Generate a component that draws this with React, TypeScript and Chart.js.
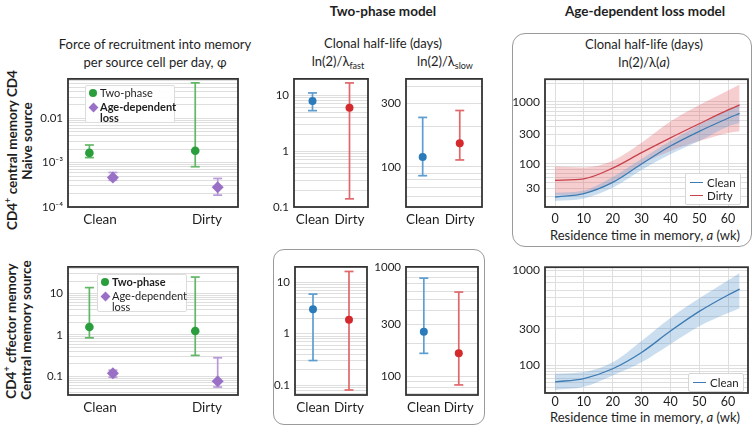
import React, { useEffect, useRef } from 'react';
import { Chart, registerables } from 'chart.js';
Chart.register(...registerables);

// ---------------- DATA ----------------
const categories = ['Clean', 'Dirty'];

// Force of recruitment, naive source (top-left)
const phiNaiveTwoPhase = [1.66e-3, 1.85e-3];
const phiNaiveTwoPhaseLo = [1.3e-3, 8.1e-4];
const phiNaiveTwoPhaseHi = [2.5e-3, 0.063];
const phiNaiveAge = [4.6e-4, 2.8e-4];
const phiNaiveAgeLo = [4.0e-4, 1.85e-4];
const phiNaiveAgeHi = [6.0e-4, 4.4e-4];

// Force of recruitment, central memory source (bottom-left)
const phiCmTwoPhase = [1.55, 1.24];
const phiCmTwoPhaseLo = [0.85, 0.32];
const phiCmTwoPhaseHi = [13.9, 25];
const phiCmAge = [0.118, 0.076];
const phiCmAgeLo = [0.095, 0.055];
const phiCmAgeHi = [0.14, 0.28];

// Two-phase model half-lives (days)
const fastNaive = [7.9, 6.0];
const fastNaiveLo = [5.3, 0.14];
const fastNaiveHi = [11, 16.6];
const slowNaive = [119, 151];
const slowNaiveLo = [86, 113];
const slowNaiveHi = [236, 266];
const fastCm = [3.0, 1.86];
const fastCmLo = [0.3, 0.08];
const fastCmHi = [5.9, 16.3];
const slowCm = [257, 163];
const slowCmLo = [163, 84];
const slowCmHi = [790, 590];

// Age-dependent loss model: half-life vs residence time
const residenceWeeks = [0, 10, 20, 30, 40, 50, 60, 64];
const naiveCleanHalfLife = [29, 33, 50, 99, 193, 334, 543, 650];
const naiveCleanLo = [25, 27.5, 41, 79, 142, 232, 400, 453];
const naiveCleanHi = [34, 37, 61, 119, 232, 426, 740, 890];
const naiveDirtyHalfLife = [54, 57, 85, 151, 262, 443, 740, 890];
const naiveDirtyLo = [31, 33, 50, 99, 161, 232, 314, 334];
const naiveDirtyHi = [90, 87, 112, 218, 481, 890, 1530, 1900];
const cmCleanHalfLife = [51.5, 59.6, 88.6, 155, 284, 453, 637, 712];
const cmCleanLo = [34.6, 40.7, 68, 112, 199, 321, 437, 486];
const cmCleanHi = [73, 78, 112, 218, 390, 597, 839, 953];

// Tick labels
const phiNaiveTicks: [number, string][] = [[1e-4, '10⁻⁴'], [1e-3, '10⁻³'], [0.01, '0.01']];
const phiCmTicks: [number, string][] = [[0.1, '0.1'], [1, '1'], [10, '10']];
const fastTicks: [number, string][] = [[0.1, '0.1'], [1, '1'], [10, '10']];
const slowNaiveTicks: [number, string][] = [[100, '100'], [300, '300']];
const slowCmTicks: [number, string][] = [[100, '100'], [300, '300'], [1000, '1000']];
const ageNaiveTicks: [number, string][] = [[40, '30'], [100, '100'], [300, '300'], [1000, '1000']];
const ageCmTicks: [number, string][] = [[100, '100'], [300, '300'], [1000, '1000']];
const weekTicks = [0, 10, 20, 30, 40, 50, 60];

// ---------------- STYLE ----------------
const FONT = 'Lato, "Open Sans", "DejaVu Sans", sans-serif';
const INK = '#1e1e1e';
const GRID = '#dedede';
const GREEN = '#2a9d3c';
const GREEN_BAR = '#62b866';
const PURPLE = '#9a70c6';
const PURPLE_BAR = '#b89ad9';
const BLUE = '#2b7bba';
const BLUE_BAR = '#5d9dd0';
const RED = '#d42a2e';
const RED_BAR = '#e0676a';

function logGrid(min: number, max: number) {
  const out: number[] = [];
  for (let e = -5; e <= 4; e++)
    for (let m = 1; m <= 9; m++) {
      const v = +(m * Math.pow(10, e)).toPrecision(6);
      if (v >= min * 0.999 && v <= max * 1.001) out.push(v);
    }
  return out;
}

const framePlugin = {
  id: 'frame',
  afterDatasetsDraw(chart: any) {
    const { ctx, chartArea: a } = chart;
    ctx.save();
    ctx.strokeStyle = '#333';
    ctx.lineWidth = 1.8;
    ctx.strokeRect(a.left, a.top, a.right - a.left, a.bottom - a.top);
    ctx.restore();
  },
};

function findLabel(labels: [number, string][], v: number) {
  const f = labels.find(([lv]) => Math.abs(lv - v) <= Math.abs(lv) * 1e-6);
  return f ? f[1] : '';
}

function logY(min: number, max: number, labels: [number, string][], size = 11.5) {
  const gv = logGrid(min, max);
  return {
    type: 'logarithmic',
    min,
    max,
    bounds: 'data',
    afterBuildTicks: (s: any) => {
      s.ticks = gv.map((v) => ({ value: v }));
    },
    ticks: {
      autoSkip: false,
      padding: 5,
      color: INK,
      font: { family: FONT, size },
      callback: (v: number) => findLabel(labels, v),
    },
    grid: { color: GRID, lineWidth: 1, drawTicks: false },
    border: { display: false },
  };
}

function catX(min: number, max: number, size = 13.5) {
  return {
    type: 'linear',
    min,
    max,
    bounds: 'data',
    afterBuildTicks: (s: any) => {
      s.ticks = categories.map((_, i) => ({ value: i }));
    },
    ticks: {
      autoSkip: false,
      padding: 5,
      maxRotation: 0,
      color: INK,
      font: { family: FONT, size },
      callback: (v: number) => categories[v] ?? '',
    },
    grid: { display: false, drawTicks: false },
    border: { display: false },
  };
}

function weekX(pad: number) {
  return {
    type: 'linear',
    min: -3.47,
    max: 66.9,
    bounds: 'data',
    afterBuildTicks: (s: any) => {
      s.ticks = weekTicks.map((v) => ({ value: v }));
    },
    ticks: { autoSkip: false, padding: pad, maxRotation: 0, color: INK, font: { family: FONT, size: 12.5 } },
    grid: { color: GRID, lineWidth: 1, drawTicks: false },
    border: { display: false },
  };
}

function errorBars(xs: number[], mid: number[], lo: number[], hi: number[], pc: string, bc: string, style: string, r: number) {
  const bar: any[] = [];
  xs.forEach((x, i) => {
    if (i > 0) bar.push({ x: (xs[i - 1] + x) / 2, y: null });
    bar.push({ x, y: lo[i] }, { x, y: hi[i] });
  });
  return [
    {
      type: 'scatter',
      data: xs.map((x, i) => ({ x, y: mid[i] })),
      pointStyle: style,
      pointRadius: r,
      pointBackgroundColor: pc,
      pointBorderColor: pc,
      pointBorderWidth: 0,
      order: 0,
    },
    {
      type: 'scatter',
      showLine: true,
      spanGaps: false,
      data: bar,
      borderColor: bc,
      borderWidth: 1.7,
      pointRadius: 0,
      order: 1,
    },
    {
      type: 'scatter',
      data: xs.flatMap((x, i) => [{ x, y: lo[i] }, { x, y: hi[i] }]),
      pointStyle: 'line',
      pointRadius: 4.5,
      pointBorderColor: bc,
      pointBorderWidth: 1.7,
      order: 1,
    },
  ];
}

type Box = { l: number; t: number; r: number; b: number };

function Panel({ box, yW, xH, padT = 10, padR = 8, make }: { box: Box; yW: number; xH: number; padT?: number; padR?: number; make: () => any }) {
  const ref = useRef<HTMLCanvasElement>(null);
  const w = box.r - box.l + yW + padR;
  const h = box.b - box.t + padT + xH;
  useEffect(() => {
    const cfg = make();
    const o = cfg.options || {};
    o.responsive = false;
    o.maintainAspectRatio = false;
    o.animation = false;
    o.devicePixelRatio = 1;
    o.layout = { padding: { top: padT, right: padR, left: 0, bottom: 0 } };
    o.plugins = { legend: { display: false }, tooltip: { enabled: false } };
    o.scales.x.afterFit = (s: any) => {
      s.height = xH;
    };
    o.scales.y.afterFit = (s: any) => {
      s.width = yW;
    };
    cfg.options = o;
    cfg.plugins = [framePlugin];
    const chart = new Chart(ref.current as HTMLCanvasElement, cfg);
    return () => chart.destroy();
  }, []);
  return (
    <canvas
      ref={ref}
      width={w}
      height={h}
      style={{ position: 'absolute', left: box.l - yW, top: box.t - padT, width: w, height: h }}
    />
  );
}

function phiChart(two: number[], twoLo: number[], twoHi: number[], age: number[], ageLo: number[], ageHi: number[], yMin: number, yMax: number, ticks: [number, string][]) {
  return () => ({
    type: 'scatter',
    data: {
      datasets: [
        ...errorBars([-0.1, 0.89], two, twoLo, twoHi, GREEN, GREEN_BAR, 'circle', 4.3),
        ...errorBars([0.12, 1.1], age, ageLo, ageHi, PURPLE, PURPLE_BAR, 'rectRot', 6),
      ],
    },
    options: { scales: { x: catX(-0.3, 1.29), y: logY(yMin, yMax, ticks) } },
  });
}

function halfLifeChart(mid: number[], lo: number[], hi: number[], xMin: number, xMax: number, yMin: number, yMax: number, ticks: [number, string][]) {
  return () => ({
    type: 'scatter',
    data: {
      datasets: [
        ...errorBars([0], [mid[0]], [lo[0]], [hi[0]], BLUE, BLUE_BAR, 'circle', 4),
        ...errorBars([1], [mid[1]], [lo[1]], [hi[1]], RED, RED_BAR, 'circle', 4),
      ],
    },
    options: { scales: { x: catX(xMin, xMax), y: logY(yMin, yMax, ticks) } },
  });
}

function lineDs(xs: number[], ys: number[], color: string, width: number, fill: any, bg: string, order: number) {
  return {
    type: 'line',
    data: xs.map((x, i) => ({ x, y: ys[i] })),
    borderColor: color,
    borderWidth: width,
    backgroundColor: bg,
    fill,
    pointRadius: 0,
    cubicInterpolationMode: 'monotone',
    order,
  };
}

const BLUE_LINE = '#3d7bb3';
const RED_LINE = '#c8424c';
const BLUE_FILL = 'rgba(92,152,207,0.32)';
const RED_FILL = 'rgba(226,92,100,0.30)';

function ageNaiveChart() {
  return {
    type: 'line',
    data: {
      datasets: [
        lineDs(residenceWeeks, naiveCleanHalfLife, BLUE_LINE, 1.3, false, BLUE_LINE, 0),
        lineDs(residenceWeeks, naiveDirtyHalfLife, RED_LINE, 1.3, false, RED_LINE, 0),
        lineDs(residenceWeeks, naiveCleanHi, 'rgba(0,0,0,0)', 0, '+1', BLUE_FILL, 1),
        lineDs(residenceWeeks, naiveCleanLo, 'rgba(0,0,0,0)', 0, false, BLUE_FILL, 1),
        lineDs(residenceWeeks, naiveDirtyHi, 'rgba(0,0,0,0)', 0, '+1', RED_FILL, 2),
        lineDs(residenceWeeks, naiveDirtyLo, 'rgba(0,0,0,0)', 0, false, RED_FILL, 2),
      ],
    },
    options: { scales: { x: weekX(4), y: logY(20, 2320, ageNaiveTicks, 12) } },
  };
}

const cbrt = (v: number) => Math.cbrt(v);
const cmGridVals = logGrid(30, 1000);

function ageCmChart() {
  return {
    type: 'line',
    data: {
      datasets: [
        lineDs(residenceWeeks, cmCleanHalfLife.map(cbrt), BLUE_LINE, 1.3, false, BLUE_LINE, 0),
        lineDs(residenceWeeks, cmCleanHi.map(cbrt), 'rgba(0,0,0,0)', 0, '+1', BLUE_FILL, 1),
        lineDs(residenceWeeks, cmCleanLo.map(cbrt), 'rgba(0,0,0,0)', 0, false, BLUE_FILL, 1),
      ],
    },
    options: {
      scales: {
        x: weekX(1),
        y: {
          type: 'linear',
          min: cbrt(29.6),
          max: cbrt(1050),
          bounds: 'data',
          afterBuildTicks: (s: any) => {
            s.ticks = cmGridVals.map((v) => ({ value: cbrt(v) }));
          },
          ticks: {
            autoSkip: false,
            padding: 5,
            color: INK,
            font: { family: FONT, size: 12 },
            callback: (v: number) => findLabel(ageCmTicks, Math.round(v * v * v)),
          },
          grid: { color: GRID, lineWidth: 1, drawTicks: false },
          border: { display: false },
        },
      },
    },
  };
}

// ---------------- HTML helpers ----------------
function T({ x, y, children, size = 13, bold = false, rotate = false }: any) {
  return (
    <div
      style={{
        position: 'absolute',
        left: x,
        top: y,
        transform: `translate(-50%,-50%)${rotate ? ' rotate(-90deg)' : ''}`,
        whiteSpace: 'nowrap',
        fontFamily: FONT,
        fontSize: size,
        fontWeight: bold ? 700 : 400,
        color: INK,
        lineHeight: 1,
      }}
    >
      {children}
    </div>
  );
}

function PhiLegend({ x, y, boldFirst }: { x: number; y: number; boldFirst: boolean }) {
  const base: any = { position: 'absolute', fontFamily: FONT, fontSize: 11, color: INK, lineHeight: '12px', height: 12, whiteSpace: 'nowrap' };
  return (
    <div
      style={{
        position: 'absolute',
        left: x,
        top: y,
        width: 90,
        height: 38,
        boxSizing: 'border-box',
        background: 'rgba(255,255,255,0.92)',
        border: '1px solid #dcdcdc',
        borderRadius: 2,
      }}
    >
      <div style={{ position: 'absolute', left: 3, top: 3, width: 8, height: 8, borderRadius: '50%', background: GREEN }} />
      <div style={{ ...base, left: 14, top: 1, fontWeight: boldFirst ? 700 : 400 }}>Two-phase</div>
      <div style={{ position: 'absolute', left: 3.5, top: 18, width: 7, height: 7, transform: 'rotate(45deg)', background: PURPLE }} />
      <div style={{ ...base, left: 14, top: 14.5, fontWeight: boldFirst ? 400 : 700 }}>Age-dependent</div>
      <div style={{ ...base, left: 14, top: 26, fontWeight: boldFirst ? 400 : 700 }}>loss</div>
    </div>
  );
}

function LineLegend({ x, y, items }: { x: number; y: number; items: [string, string][] }) {
  return (
    <div
      style={{
        position: 'absolute',
        left: x,
        top: y,
        padding: '2px 4px 2px 4px',
        background: 'rgba(255,255,255,0.92)',
        border: '1px solid #d6d6d6',
        borderRadius: 2,
      }}
    >
      {items.map(([label, color]) => (
        <div key={label} style={{ display: 'flex', alignItems: 'center', height: 13 }}>
          <span style={{ display: 'inline-block', width: 13, height: 1.5, background: color, marginRight: 4 }} />
          <span style={{ fontFamily: FONT, fontSize: 11.5, color: INK, lineHeight: 1 }}>{label}</span>
        </div>
      ))}
    </div>
  );
}

const sub = { fontSize: 9, verticalAlign: -3 };

export default function App() {
  return (
    <div style={{ position: 'absolute', left: 0, top: 0, width: 755, height: 436, background: '#fff', overflow: 'hidden' }}>
      {/* rounded frames */}
      <div style={{ position: 'absolute', left: 512, top: 33, width: 240, height: 214, border: '1.2px solid #9a9a9a', borderRadius: 13, boxSizing: 'border-box' }} />
      <div style={{ position: 'absolute', left: 273, top: 249, width: 212, height: 176, border: '1.2px solid #9a9a9a', borderRadius: 11, boxSizing: 'border-box' }} />

      {/* headers */}
      <T x={383} y={12} bold size={13.5}>Two-phase model</T>
      <T x={645} y={12} bold size={13.5}>Age-dependent loss model</T>
      <T x={155} y={44}>Force of recruitment into memory</T>
      <T x={155} y={62}>per source cell per day, φ</T>
      <T x={383} y={43}>Clonal half-life (days)</T>
      <T x={338} y={62}>
        ln(2)/λ<span style={sub}>fast</span>
      </T>
      <T x={445} y={62}>
        ln(2)/λ<span style={sub}>slow</span>
      </T>
      <T x={644} y={44}>Clonal half-life (days)</T>
      <T x={644} y={62}>
        ln(2)/λ(<i>a</i>)
      </T>
      <T x={645} y={235}>
        Residence time in memory, <i>a</i> (wk)
      </T>
      <T x={645} y={417}>
        Residence time in memory, <i>a</i> (wk)
      </T>

      {/* row labels */}
      <T x={11} y={150} bold rotate size={13.5}>
        CD4<sup style={{ fontSize: 9 }}>+</sup> central memory CD4
      </T>
      <T x={28} y={141} bold rotate size={13.5}>Naive source</T>
      <T x={10} y={331} bold rotate size={13.5}>
        CD4<sup style={{ fontSize: 9 }}>+</sup> cffector memory
      </T>
      <T x={27} y={330} bold rotate size={13.5}>Central memory source</T>

      {/* charts */}
      <Panel
        box={{ l: 68, t: 77, r: 238, b: 207 }}
        yW={60}
        xH={26}
        make={phiChart(phiNaiveTwoPhase, phiNaiveTwoPhaseLo, phiNaiveTwoPhaseHi, phiNaiveAge, phiNaiveAgeLo, phiNaiveAgeHi, 1e-4, 0.0774, phiNaiveTicks)}
      />
      <Panel
        box={{ l: 68, t: 265, r: 238, b: 395 }}
        yW={60}
        xH={26}
        make={phiChart(phiCmTwoPhase, phiCmTwoPhaseLo, phiCmTwoPhaseHi, phiCmAge, phiCmAgeLo, phiCmAgeHi, 0.0353, 44, phiCmTicks)}
      />
      <Panel box={{ l: 294, t: 77, r: 368, b: 207 }} yW={36} xH={26} make={halfLifeChart(fastNaive, fastNaiveLo, fastNaiveHi, -0.5, 1.5, 0.1, 19.6, fastTicks)} />
      <Panel box={{ l: 406, t: 77, r: 482, b: 207 }} yW={36} xH={26} make={halfLifeChart(slowNaive, slowNaiveLo, slowNaiveHi, -0.45, 1.6, 50, 460, slowNaiveTicks)} />
      <Panel box={{ l: 295, t: 265, r: 367, b: 395 }} yW={36} xH={26} make={halfLifeChart(fastCm, fastCmLo, fastCmHi, -0.5, 1.5, 0.064, 20, fastTicks)} />
      <Panel box={{ l: 406, t: 265, r: 478, b: 395 }} yW={36} xH={26} make={halfLifeChart(slowCm, slowCmLo, slowCmHi, -0.51, 1.55, 68, 1000, slowCmTicks)} />
      <Panel box={{ l: 545, t: 77, r: 748, b: 207 }} yW={36} xH={22} padR={5} make={ageNaiveChart} />
      <Panel box={{ l: 545, t: 265, r: 748, b: 393 }} yW={36} xH={18} padR={5} make={ageCmChart} />

      {/* legends */}
      <PhiLegend x={85} y={85} boldFirst={false} />
      <PhiLegend x={97} y={274} boldFirst={true} />
      <LineLegend x={685} y={173} items={[['Clean', BLUE_LINE], ['Dirty', RED_LINE]]} />
      <LineLegend x={688} y={373} items={[['Clean', BLUE_LINE]]} />
    </div>
  );
}
